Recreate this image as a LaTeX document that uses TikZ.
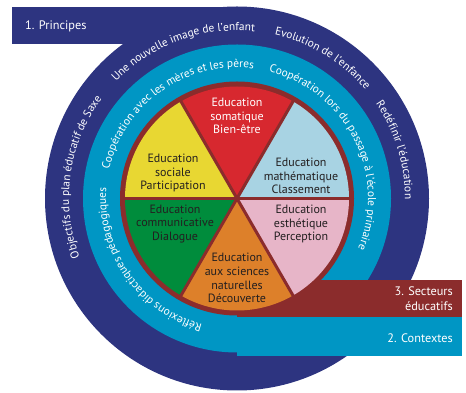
\documentclass[tikz,border=0pt]{standalone}
\usepackage{fontspec}
\setmainfont{PT Sans}
\usetikzlibrary{decorations.text}
\definecolor{navyc}{HTML}{2D3480}
\definecolor{cyanc}{HTML}{0096C4}
\definecolor{dredc}{HTML}{8B2C2C}
\definecolor{redc}{HTML}{D7282F}
\definecolor{yellowc}{HTML}{E8D732}
\definecolor{lbluec}{HTML}{A8D3E3}
\definecolor{pinkc}{HTML}{E7B5C8}
\definecolor{orangec}{HTML}{DD802A}
\definecolor{greenc}{HTML}{008C3C}
\definecolor{darktext}{HTML}{231F20}
\newcommand\myringfont{\color{white}\fontsize{11.4}{13}\selectfont}
\newcommand\ringtext[3]{\path[decorate,decoration={text along path,text align=center,text={|\myringfont|#3}}]
  ([shift={(#1+70:#2)}]C) arc[start angle=#1+70, end angle=#1-70, radius=#2];}
\tikzset{
  pielabel/.style={align=center, text=darktext, font=\fontsize{12}{13.7}\selectfont, inner sep=0pt},
  bandlabel/.style={text=white, font=\fontsize{12.3}{15}\selectfont, inner sep=0pt},
  sepline/.style={draw=dredc, line width=3pt}
}
\begin{document}
\begin{tikzpicture}[x=1pt,y=1pt]
\useasboundingbox (0,0) rectangle (466,393);
\coordinate (C) at (237,194.5);
% navy
\fill[navyc] (C) circle[radius=192];
\fill[navyc] (12,349) rectangle (237,386);
% cyan
\fill[cyanc] (C) circle[radius=154];
\fill[cyanc] (237,37) rectangle (462,76);
% dark red
\fill[dredc] (C) circle[radius=117];
\fill[dredc] (237,76) rectangle (462,113);
% pie sectors
\fill[lbluec] (C) -- ([shift={(0:112)}]C) arc[start angle=0, end angle=60, radius=112] -- cycle;
\fill[redc] (C) -- ([shift={(60:112)}]C) arc[start angle=60, end angle=120, radius=112] -- cycle;
\fill[yellowc] (C) -- ([shift={(120:112)}]C) arc[start angle=120, end angle=180, radius=112] -- cycle;
\fill[greenc] (C) -- ([shift={(180:112)}]C) arc[start angle=180, end angle=240, radius=112] -- cycle;
\fill[orangec] (C) -- ([shift={(240:112)}]C) arc[start angle=240, end angle=300, radius=112] -- cycle;
\fill[pinkc] (C) -- ([shift={(300:112)}]C) arc[start angle=300, end angle=360, radius=112] -- cycle;
\draw[sepline] ([shift={(0:113)}]C) -- ([shift={(180:113)}]C);
\draw[sepline] ([shift={(60:113)}]C) -- ([shift={(240:113)}]C);
\draw[sepline] ([shift={(120:113)}]C) -- ([shift={(300:113)}]C);
% pie labels
\node[pielabel, text=white] (som) at (237,277) {Education\\somatique\\Bien-être};
\node[pielabel] (soc) at (173,220) {Education\\sociale\\Participation};
\node[pielabel] (mat) at (301,217) {Education\\mathématique\\Classement};
\node[pielabel] (com) at (175,169) {Education\\communicative\\Dialogue};
\node[pielabel] (est) at (301,169) {Education\\esthétique\\Perception};
\node[pielabel] (nat) at (237,115) {Education\\aux sciences\\naturelles\\Découverte};
% band labels
\node[bandlabel, anchor=west] (pr) at (25,367) {1. Principes};
\node[bandlabel, anchor=east, align=right] (se) at (453,94) {3. Secteurs\\éducatifs};
\node[bandlabel, anchor=east] (co) at (453,55) {2. Contextes};
% ring texts navy
\ringtext{172}{168}{Objectifs du plan éducatif de Saxe}
\ringtext{110}{168}{Une nouvelle image de l'enfant}
\ringtext{58.6}{168}{Evolution de l'enfance}
\ringtext{17}{168}{Redéfinir l'éducation}
% ring texts cyan
\ringtext{215}{131}{Réflexions didactiques pédagogiques}
\ringtext{125}{131}{Coopération avec les mères et les pères}
\ringtext{26.7}{131}{Coopération lors du passage à l'école primaire}
\end{tikzpicture}
\end{document}
